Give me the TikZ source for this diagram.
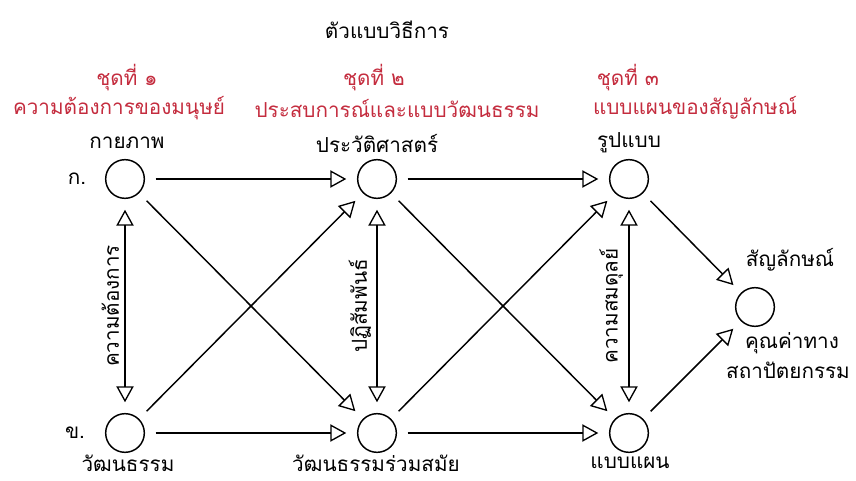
\documentclass[tikz,border=0pt]{standalone}
\usepackage{fontspec}
\setmainfont{Loma}[Script=Thai]
\usetikzlibrary{arrows.meta}
\definecolor{setred}{RGB}{196,44,62}
\tikzset{
  tip/.tip={Triangle[open, length=12pt, width=13pt, line width=1pt]},
}

\begin{document}
\begin{tikzpicture}[x=0.75pt,y=0.75pt,yscale=-1,xscale=1,
  stage/.style={draw, circle, line width=1.1pt, minimum size=29pt, inner sep=0pt},
  link/.style={line width=1.1pt, -tip, shorten >=8pt, shorten <=8pt},
  twoway/.style={link, tip-tip},
  lbl/.style={inner sep=0.75pt, font=\fontsize{15.5pt}{18pt}\selectfont},
  hdr/.style={lbl, text=setred},
  side/.style={lbl, rotate=90, anchor=south, inner sep=4pt}]
\useasboundingbox (0,0) rectangle (856,481);

% Circles
\node [stage] (a1) at (125,179) {};
\node [stage] (a2) at (377,179) {};
\node [stage] (a3) at (629,179) {};
\node [stage] (b1) at (125,433) {};
\node [stage] (b2) at (377,433) {};
\node [stage] (b3) at (629,433) {};
\node [stage] (sym) at (755,307) {};

% Title and set headers
\node [lbl] (title) at (387,30) {ตัวแบบวิธีการ};
\node [hdr] (set1) at (127,78) {ชุดที่ ๑};
\node [hdr] (set1b) at (119,108) {ความต้องการของมนุษย์};
\node [hdr] (set2) at (374,78) {ชุดที่ ๒};
\node [hdr] (set2b) at (397,108) {ประสบการณ์และแบบวัฒนธรรม};
\node [hdr] (set3) at (628,78) {ชุดที่ ๓};
\node [hdr] (set3b) at (695,108) {แบบแผนของสัญลักษณ์};

% Row marks and circle labels
\node [lbl] (rowa) at (77,179) {ก.};
\node [lbl] (rowb) at (75,433) {ข.};
\node [lbl] (phys) at (127,143) {กายภาพ};
\node [lbl] (hist) at (377,143) {ประวัติศาสตร์};
\node [lbl] (form) at (629,143) {รูปแบบ};
\node [lbl] (cult) at (128,463) {วัฒนธรรม};
\node [lbl] (cont) at (376,463) {วัฒนธรรมร่วมสมัย};
\node [lbl] (patt) at (630,463) {แบบแผน};
\node [lbl] (symb) at (790,260) {สัญลักษณ์};
\node [lbl] (val1) at (792,343) {คุณค่าทาง};
\node [lbl] (val2) at (788,370) {สถาปัตยกรรม};

% Straight arrows
\draw [link] (a1) -- (a2);
\draw [link] (a2) -- (a3);
\draw [link] (b1) -- (b2);
\draw [link] (b2) -- (b3);
% Crossing arrows
\draw [link] (a1) -- (b2);
\draw [link] (b1) -- (a2);
\draw [link] (a2) -- (b3);
\draw [link] (b2) -- (a3);
\draw [link] (a3) -- (sym);
\draw [link] (b3) -- (sym);
% Two-way arrows
\draw [twoway] (a1) -- node [side] (need) {ความต้องการ} (b1);
\draw [twoway] (a2) -- node [side] (inter) {ปฏิสัมพันธ์} (b2);
\draw [twoway] (a3) -- node [side] (bal) {ความสมดุลย์} (b3);

\end{tikzpicture}
\end{document}
